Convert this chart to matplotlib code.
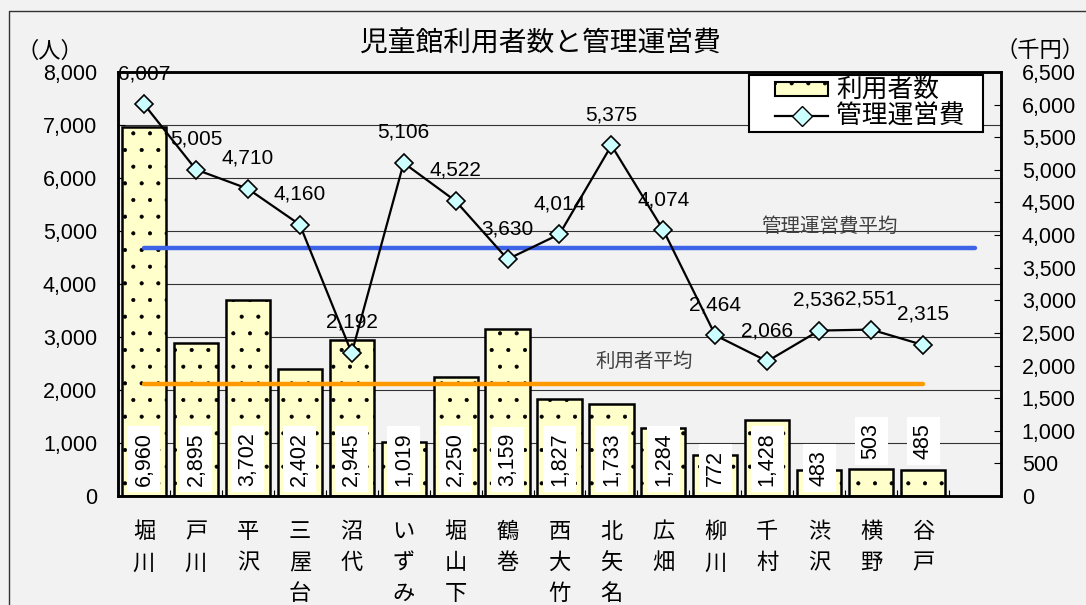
import numpy as np
import matplotlib
matplotlib.use('Agg')
import matplotlib.pyplot as plt
from matplotlib.ticker import FuncFormatter, MultipleLocator, FixedLocator
from matplotlib.patches import Patch
from matplotlib.lines import Line2D
from matplotlib.legend_handler import HandlerPatch, HandlerLine2D

plt.rcParams['font.family'] = ['Liberation Sans', 'Noto Sans CJK JP']
plt.rcParams['hatch.linewidth'] = 0.5

# data
facilities = ['堀川', '戸川', '平沢', '三屋台', '沼代', 'いずみ', '堀山下', '鶴巻',
              '西大竹', '北矢名', '広畑', '柳川', '千村', '渋沢', '横野', '谷戸']
users = [6960, 2895, 3702, 2402, 2945, 1019, 2250, 3159,
         1827, 1733, 1284, 772, 1428, 483, 503, 485]
costs = [6007, 5005, 4710, 4160, 2192, 5106, 4522, 3630,
         4014, 5375, 4074, 2464, 2066, 2536, 2551, 2315]

title = '児童館利用者数と管理運営費'
users_name = '利用者数'
costs_name = '管理運営費'
users_avg_name = '利用者平均'
costs_avg_name = '管理運営費平均'

W, H = 1086, 605
bg = '#f2f2f2'

fig = plt.figure(figsize=(W / 100, H / 100), dpi=100)
fig.patch.set_facecolor(bg)
ax = fig.add_axes([118 / W, 1 - 496 / H, (1001 - 118) / W, (496 - 72) / H])
ax.set_facecolor(bg)
ax2 = ax.twinx()

x = np.arange(len(facilities))
users = np.array(users)
costs = np.array(costs)

# bars
bars = ax.bar(x, users, width=0.85, color='#ffffcc', edgecolor='black',
              linewidth=1.8, hatch='.', zorder=2)

# bar value labels (white boxes, rotated)
raised = {'横野', '谷戸'}
for i, (name, v) in enumerate(zip(facilities, users)):
    yy = 700 if name in raised else 190
    ax.text(i, yy, f'{v:,}', rotation=90, ha='center', va='bottom',
            fontsize=15.5, zorder=4,
            bbox=dict(boxstyle='square,pad=0.28', fc='white', ec='none'))

# averages
u_avg = users.mean()
c_avg = costs.mean()
ax.plot([0, len(facilities) - 1], [u_avg, u_avg], color='#ff9900', lw=3.2,
        solid_capstyle='round', zorder=3)
ax2.plot([0, len(facilities)], [c_avg, c_avg], color='#3d63e8', lw=3.2,
         solid_capstyle='round', zorder=1)
ax.annotate(users_avg_name, (9.63, u_avg), xytext=(0, 9), textcoords='offset points',
            ha='center', va='bottom', fontsize=14, color='#404040', zorder=4)
ax2.annotate(costs_avg_name, (13.19, c_avg), xytext=(0, 9), textcoords='offset points',
             ha='center', va='bottom', fontsize=14, color='#404040', zorder=4)

# cost line
line, = ax2.plot(x, costs, color='black', lw=1.6, marker='D', markersize=9.5,
                 markerfacecolor='#ccffff', markeredgecolor='black',
                 markeredgewidth=1.2, zorder=3)
for i, v in enumerate(costs):
    ax2.annotate(f'{v:,}', (i, v), xytext=(0, 22), textcoords='offset points',
                 ha='center', va='center', fontsize=15, zorder=5)

# axes
ax.set_xlim(-0.5, len(facilities) + 0.5)
ax.set_ylim(0, 8000)
ax2.set_ylim(0, 6500)
ax.yaxis.set_major_locator(MultipleLocator(1000))
ax2.yaxis.set_major_locator(MultipleLocator(500))
fmt = FuncFormatter(lambda v, p: f'{int(v):,}')
ax.yaxis.set_major_formatter(fmt)
ax2.yaxis.set_major_formatter(fmt)

ax.yaxis.grid(True, color='#333333', lw=0.8)
ax.set_axisbelow(True)

ax.set_xticks(x)
ax.set_xticklabels(['\n'.join(n) for n in facilities], fontsize=16,
                   linespacing=1.62, va='top')
ax.xaxis.set_minor_locator(FixedLocator(np.arange(len(facilities) + 1) - 0.5))
ax.tick_params(axis='x', which='major', length=0, pad=19)
ax.tick_params(axis='x', which='minor', direction='in', length=4, width=0.8)
ax.tick_params(axis='y', direction='in', length=5, width=0.8, pad=15, labelsize=15.5)
ax2.tick_params(axis='y', direction='in', length=5, width=0.8, pad=15, labelsize=15.5)

for a in (ax, ax2):
    for s in a.spines.values():
        s.set_linewidth(1.8)
        s.set_color('black')

# legend
leg_handles = [Patch(facecolor='#ffffcc', edgecolor='black', hatch='.', linewidth=1.5),
               Line2D([], [], color='black', lw=1.6, marker='D', markersize=10,
                      markerfacecolor='#ccffff', markeredgecolor='black')]
leg = ax2.legend(leg_handles, [users_name, costs_name + '  '], loc='upper right',
                 bbox_to_anchor=((983 - 118) / 883, (496 - 75) / 424),
                 borderaxespad=0, fontsize=18.5, frameon=True, fancybox=False,
                 edgecolor='black', facecolor='white', framealpha=1,
                 handlelength=2.95, handleheight=0.45, handletextpad=0.3,
                 borderpad=0.15, labelspacing=0.05,
                 handler_map={Patch: HandlerPatch(xpad=0.88),
                              Line2D: HandlerLine2D(xpad=0.88)})
leg.get_frame().set_linewidth(1.5)

# titles and units
fig.text(540 / W, 1 - 45 / H, title, ha='center', va='center', fontsize=20)
fig.text(50 / W, 1 - 52 / H, '（人）', ha='center', va='center', fontsize=16)
fig.text(1040 / W, 1 - 51 / H, '（千円）', ha='center', va='center', fontsize=16)

# outer frame of the chart area
fig.add_artist(Line2D([9 / W, 9 / W, 1], [0, 1 - 11 / H, 1 - 11 / H],
                      transform=fig.transFigure, color='#333333', lw=1))

fig.savefig('out.png', dpi=100, facecolor=bg)
